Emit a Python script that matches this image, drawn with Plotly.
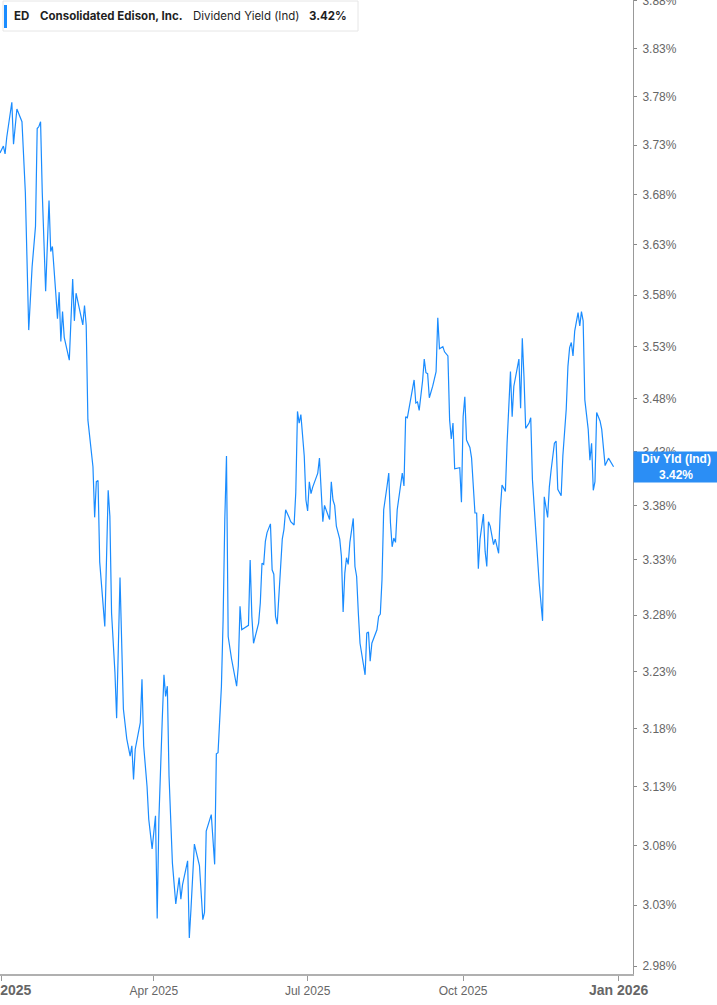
import numpy as np
import plotly.graph_objects as go

# ---------------- data ----------------
dates = [
    "2024-12-31", "2025-01-02", "2025-01-03", "2025-01-04", "2025-01-07", "2025-01-08", "2025-01-10", "2025-01-11",
    "2025-01-13", "2025-01-15", "2025-01-17", "2025-01-19", "2025-01-21", "2025-01-22", "2025-01-23", "2025-01-24",
    "2025-01-25", "2025-01-27", "2025-01-29", "2025-01-30", "2025-01-31", "2025-02-02", "2025-02-03", "2025-02-04",
    "2025-02-05", "2025-02-06", "2025-02-07", "2025-02-10", "2025-02-12", "2025-02-13", "2025-02-14", "2025-02-18",
    "2025-02-19", "2025-02-20", "2025-02-21", "2025-02-24", "2025-02-25", "2025-02-26", "2025-02-27", "2025-02-28",
    "2025-03-03", "2025-03-04", "2025-03-05", "2025-03-06", "2025-03-07", "2025-03-09", "2025-03-10", "2025-03-12",
    "2025-03-14", "2025-03-16", "2025-03-18", "2025-03-19", "2025-03-20", "2025-03-21", "2025-03-24", "2025-03-25",
    "2025-03-26", "2025-03-28", "2025-03-29", "2025-03-31", "2025-04-02", "2025-04-03", "2025-04-04", "2025-04-06",
    "2025-04-07", "2025-04-08", "2025-04-09", "2025-04-10", "2025-04-11", "2025-04-12", "2025-04-14", "2025-04-16",
    "2025-04-17", "2025-04-18", "2025-04-21", "2025-04-22", "2025-04-23", "2025-04-25", "2025-04-28", "2025-04-29",
    "2025-04-30", "2025-05-01", "2025-05-02", "2025-05-05", "2025-05-07", "2025-05-08", "2025-05-09", "2025-05-11",
    "2025-05-12", "2025-05-13", "2025-05-14", "2025-05-15", "2025-05-17", "2025-05-20", "2025-05-21", "2025-05-22",
    "2025-05-23", "2025-05-27", "2025-05-28", "2025-05-29", "2025-05-30", "2025-06-02", "2025-06-03", "2025-06-04",
    "2025-06-05", "2025-06-06", "2025-06-07", "2025-06-09", "2025-06-10", "2025-06-11", "2025-06-12", "2025-06-13",
    "2025-06-15", "2025-06-16", "2025-06-17", "2025-06-18", "2025-06-20", "2025-06-21", "2025-06-23", "2025-06-24",
    "2025-06-25", "2025-06-26", "2025-06-27", "2025-06-29", "2025-06-30", "2025-07-01", "2025-07-02", "2025-07-03",
    "2025-07-04", "2025-07-07", "2025-07-08", "2025-07-09", "2025-07-10", "2025-07-11", "2025-07-12", "2025-07-14",
    "2025-07-15", "2025-07-16", "2025-07-17", "2025-07-18", "2025-07-20", "2025-07-21", "2025-07-22", "2025-07-23",
    "2025-07-24", "2025-07-25", "2025-07-26", "2025-07-28", "2025-07-29", "2025-07-30", "2025-07-31", "2025-08-01",
    "2025-08-04", "2025-08-05", "2025-08-06", "2025-08-07", "2025-08-08", "2025-08-11", "2025-08-12", "2025-08-13",
    "2025-08-14", "2025-08-15", "2025-08-17", "2025-08-18", "2025-08-19", "2025-08-20", "2025-08-21", "2025-08-22",
    "2025-08-23", "2025-08-25", "2025-08-26", "2025-08-27", "2025-08-28", "2025-08-29", "2025-08-31", "2025-09-02",
    "2025-09-03", "2025-09-04", "2025-09-05", "2025-09-07", "2025-09-08", "2025-09-09", "2025-09-10", "2025-09-11",
    "2025-09-13", "2025-09-15", "2025-09-16", "2025-09-17", "2025-09-19", "2025-09-20", "2025-09-22", "2025-09-23",
    "2025-09-24", "2025-09-25", "2025-09-26", "2025-09-29", "2025-09-30", "2025-10-01", "2025-10-02", "2025-10-03",
    "2025-10-05", "2025-10-06", "2025-10-08", "2025-10-09", "2025-10-10", "2025-10-11", "2025-10-13", "2025-10-14",
    "2025-10-15", "2025-10-16", "2025-10-17", "2025-10-19", "2025-10-20", "2025-10-22", "2025-10-23", "2025-10-24",
    "2025-10-26", "2025-10-27", "2025-10-29", "2025-10-30", "2025-10-31", "2025-11-03", "2025-11-04", "2025-11-05",
    "2025-11-06", "2025-11-07", "2025-11-09", "2025-11-10", "2025-11-11", "2025-11-13", "2025-11-15", "2025-11-17",
    "2025-11-18", "2025-11-20", "2025-11-21", "2025-11-22", "2025-11-23", "2025-11-24", "2025-11-25", "2025-11-26",
    "2025-11-28", "2025-11-29", "2025-12-01", "2025-12-02", "2025-12-03", "2025-12-04", "2025-12-05", "2025-12-06",
    "2025-12-08", "2025-12-09", "2025-12-10", "2025-12-11", "2025-12-12", "2025-12-14", "2025-12-15", "2025-12-16",
    "2025-12-17", "2025-12-18", "2025-12-19", "2025-12-21", "2025-12-22", "2025-12-24", "2025-12-26", "2025-12-27",
    "2025-12-29",
]

div_yield = [
    3.722, 3.729, 3.721, 3.738, 3.774, 3.731, 3.767, 3.762,
    3.754, 3.682, 3.546, 3.608, 3.648, 3.747, 3.749, 3.754,
    3.682, 3.584, 3.674, 3.623, 3.628, 3.582, 3.557, 3.583,
    3.535, 3.564, 3.539, 3.517, 3.596, 3.555, 3.582, 3.551,
    3.570, 3.551, 3.460, 3.416, 3.369, 3.402, 3.403, 3.328,
    3.270, 3.330, 3.394, 3.370, 3.282, 3.229, 3.189, 3.314,
    3.197, 3.171, 3.156, 3.165, 3.136, 3.162, 3.185, 3.223,
    3.165, 3.130, 3.102, 3.077, 3.105, 3.019, 3.102, 3.188,
    3.227, 3.208, 3.217, 3.139, 3.099, 3.065, 3.031, 3.053,
    3.035, 3.047, 3.067, 3.003, 3.027, 3.081, 3.063, 3.035,
    3.018, 3.024, 3.092, 3.106, 3.064, 3.158, 3.159, 3.217,
    3.276, 3.367, 3.426, 3.261, 3.241, 3.217, 3.235, 3.288,
    3.267, 3.271, 3.330, 3.279, 3.255, 3.273, 3.291, 3.327,
    3.326, 3.347, 3.355, 3.363, 3.321, 3.317, 3.279, 3.272,
    3.324, 3.349, 3.358, 3.376, 3.369, 3.365, 3.362, 3.392,
    3.468, 3.457, 3.465, 3.426, 3.385, 3.375, 3.402, 3.391,
    3.397, 3.410, 3.424, 3.392, 3.365, 3.380, 3.375, 3.367,
    3.402, 3.385, 3.380, 3.361, 3.349, 3.333, 3.283, 3.318,
    3.332, 3.326, 3.346, 3.368, 3.324, 3.315, 3.282, 3.255,
    3.227, 3.264, 3.265, 3.239, 3.255, 3.267, 3.279, 3.281,
    3.312, 3.376, 3.398, 3.410, 3.364, 3.342, 3.350, 3.346,
    3.376, 3.402, 3.410, 3.398, 3.463, 3.462, 3.481, 3.498,
    3.476, 3.477, 3.469, 3.497, 3.518, 3.505, 3.504, 3.481,
    3.492, 3.506, 3.558, 3.528, 3.530, 3.525, 3.521, 3.460,
    3.442, 3.457, 3.414, 3.415, 3.383, 3.463, 3.482, 3.441,
    3.434, 3.424, 3.373, 3.373, 3.322, 3.349, 3.372, 3.338,
    3.324, 3.365, 3.361, 3.344, 3.349, 3.336, 3.376, 3.399,
    3.393, 3.438, 3.506, 3.463, 3.492, 3.518, 3.471, 3.538,
    3.501, 3.452, 3.457, 3.462, 3.404, 3.355, 3.309, 3.275,
    3.388, 3.369, 3.397, 3.412, 3.426, 3.438, 3.440, 3.395,
    3.389, 3.426, 3.470, 3.511, 3.529, 3.534, 3.521, 3.545,
    3.563, 3.550, 3.564, 3.555, 3.479, 3.451, 3.422, 3.438,
    3.394, 3.402, 3.467, 3.459, 3.451, 3.417, 3.424, 3.421,
    3.416,
]

y_tick_values = [2.98, 3.03, 3.08, 3.13, 3.18, 3.23, 3.28, 3.33, 3.38, 3.43,
                 3.48, 3.53, 3.58, 3.63, 3.68, 3.73, 3.78, 3.83, 3.88]
y_tick_labels = [f"{v:.2f}%" for v in y_tick_values]

x_tick_dates = ["2025-01-01", "2025-04-01", "2025-07-01", "2025-10-01", "2026-01-01"]
x_tick_labels = [
    "<span style='font-size:14px'><b>Jan 2025</b></span>",
    "Apr 2025", "Jul 2025", "Oct 2025",
    "<span style='font-size:14px'><b>Jan 2026</b></span>",
]

ticker = "ED"
company = "Consolidated Edison, Inc."
metric = "Dividend Yield (Ind)"
end_label = "Div Yld (Ind)"
last_value = div_yield[-1]

# ---------------- layout constants ----------------
W, H = 717, 1005
ML, MR, MT, MB = 0, 84, 0, 31
PW, PH = W - ML - MR, H - MT - MB
LINE_BLUE = "#1a8cff"
LABEL_BLUE = "#2b8ef5"


def px(xp):
    return xp / PW


def py(yp):
    return 1 - yp / PH


fig = go.Figure()
fig.add_trace(go.Scatter(
    x=dates, y=div_yield, mode="lines",
    line=dict(color=LINE_BLUE, width=1.2),
    hoverinfo="x+y", showlegend=False,
))

fig.update_layout(
    width=W, height=H,
    margin=dict(l=ML, r=MR, t=MT, b=MB, pad=0),
    paper_bgcolor="white", plot_bgcolor="white",
    font=dict(family="Liberation Sans, Arial, sans-serif", size=12, color="#666666"),
    showlegend=False,
    xaxis=dict(
        type="date",
        range=["2024-12-31", "2026-01-09 12:00"],
        tickvals=x_tick_dates, ticktext=x_tick_labels,
        ticks="outside", ticklen=5, tickcolor="#999999", tickwidth=1,
        showline=True, linecolor="#b0b0b0", linewidth=2,
        showgrid=False, zeroline=False,
        tickfont=dict(size=12, color="#666666"),
        ticklabeloverflow="allow", automargin=False,
    ),
    yaxis=dict(
        type="log", side="right",
        range=[np.log10(2.9735), np.log10(3.881)],
        tickvals=y_tick_values, ticktext=y_tick_labels,
        ticks="outside", ticklen=3, tickcolor="#888888",
        showline=True, linecolor="#999999", linewidth=1,
        showgrid=False, zeroline=False,
        tickfont=dict(size=12, color="#666666"),
        ticklabelstandoff=3,
        ticklabeloverflow="allow", automargin=False,
    ),
)

# header box
fig.add_shape(type="rect", xref="paper", yref="paper",
              x0=px(3), x1=px(358), y0=py(31), y1=py(1),
              line=dict(color="#e6e6e6", width=1), fillcolor="white", layer="above")
fig.add_shape(type="rect", xref="paper", yref="paper",
              x0=px(4), x1=px(7), y0=py(28), y1=py(5),
              line=dict(width=0), fillcolor=LINE_BLUE, layer="above")

hdr_font = dict(family="Inter, Noto Sans, sans-serif", size=11.5, color="#1f1f1f")
for xp, txt in [(12, f"<b>{ticker}</b>"), (38, f"<b>{company}</b>"),
                (191, metric), (307, f"<b>{last_value:.2f}%</b>")]:
    fig.add_annotation(xref="paper", yref="paper", x=px(xp), y=py(16),
                       xanchor="left", yanchor="middle", text=txt,
                       showarrow=False, font=hdr_font)

# end-value label on the right axis
fig.add_annotation(
    xref="paper", yref="y", x=1, y=np.log10(last_value),
    xanchor="left", yanchor="middle",
    text=f"<b>{end_label}</b><br><b>{last_value:.2f}%</b>",
    showarrow=False, align="center",
    font=dict(family="Liberation Sans, Arial, sans-serif", size=12, color="white"),
    bgcolor=LABEL_BLUE, borderpad=0, width=MR, height=30,
)

fig.write_html(
    "out.html",
    config={"displayModeBar": False},
    post_script="document.body.style.margin='0';document.body.style.overflow='hidden';",
)
